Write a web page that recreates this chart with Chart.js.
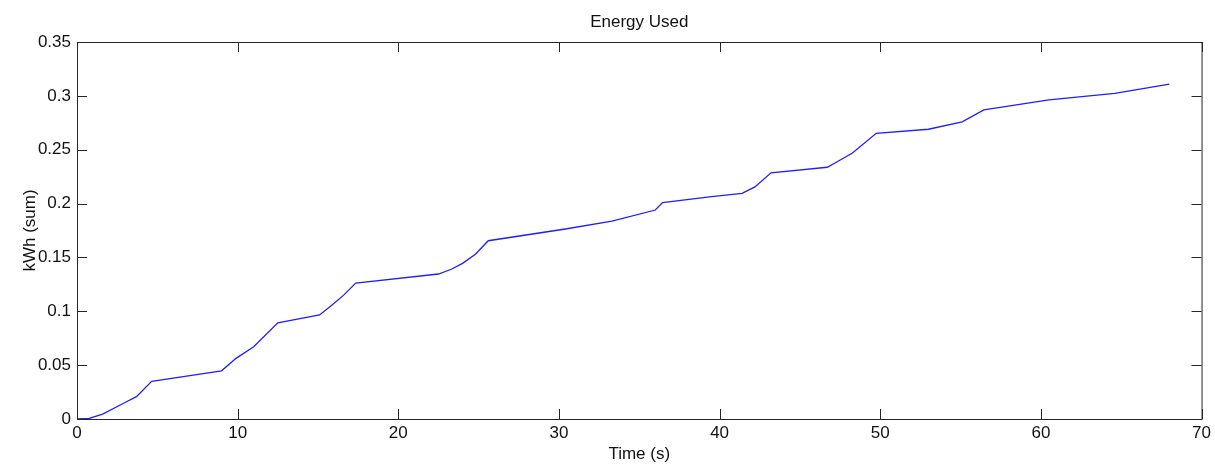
<!DOCTYPE html>
<html>
<head>
<meta charset="utf-8">
<script src="https://cdn.jsdelivr.net/npm/chart.js@4/dist/chart.umd.min.js"></script>
<style>
  body { margin: 0; background: #fff; }
  #wrap { width: 1215px; height: 465px; }
</style>
</head>
<body>
<div id="wrap"><canvas id="energyChart" width="1215" height="465"></canvas></div>
<script>
// data
var times = [0, 0.75, 1.6, 2.9, 3.7, 4.65, 9.0, 9.9, 11.0, 12.5, 15.1, 15.8, 16.6, 17.35,
  22.5, 23.3, 24.0, 24.8, 25.6, 30.4, 33.3, 36.0, 36.45, 39.5, 41.4, 42.2, 43.2,
  46.7, 47.4, 48.25, 49.75, 53.0, 55.1, 56.45, 60.5, 64.6, 68.0];
var kwh = [0, 0.0005, 0.0046, 0.0146, 0.0207, 0.035, 0.0447, 0.0563, 0.0671, 0.0893, 0.0966, 0.105, 0.115, 0.1262,
  0.1346, 0.139, 0.1445, 0.153, 0.1655, 0.1764, 0.1838, 0.194, 0.2009, 0.2064, 0.2095, 0.2155, 0.2285,
  0.2337, 0.2395, 0.2467, 0.2652, 0.269, 0.2758, 0.2869, 0.2962, 0.3024, 0.3108];
var xTicks = [0, 10, 20, 30, 40, 50, 60, 70];
var yTicks = [0, 0.05, 0.1, 0.15, 0.2, 0.25, 0.3, 0.35];
var chartTitle = 'Energy Used';

var fontFam = "'Liberation Sans', Arial, sans-serif";
var axisColor = '#262626';
var textColor = '#111';

//build points for the line
var points = [];
for (var i = 0; i < times.length; i++) {
  points.push({x: times[i], y: kwh[i]});
}

//matlab style box with inward ticks, title centred over the axes
var boxPlugin = {
  id: 'matlabBox',
  afterDraw: function(chart) {
    var ctx = chart.ctx;
    var a = chart.chartArea;
    var xs = chart.scales.x, ys = chart.scales.y;
    var len = 10;
    ctx.save();
    ctx.strokeStyle = axisColor;
    ctx.lineWidth = 1;
    ctx.strokeRect(a.left + 0.5, a.top + 0.5, a.right - a.left, a.bottom - a.top);
    ctx.beginPath();
    xTicks.forEach(function(v) {
      var px = Math.round(xs.getPixelForValue(v)) + 0.5;
      ctx.moveTo(px, a.bottom); ctx.lineTo(px, a.bottom - len);
      ctx.moveTo(px, a.top); ctx.lineTo(px, a.top + len);
    });
    yTicks.forEach(function(v) {
      var py = Math.round(ys.getPixelForValue(v)) + 0.5;
      ctx.moveTo(a.left, py); ctx.lineTo(a.left + len, py);
      ctx.moveTo(a.right, py); ctx.lineTo(a.right - len, py);
    });
    ctx.stroke();

    ctx.fillStyle = textColor;
    ctx.font = '17px ' + fontFam;
    ctx.textAlign = 'center';
    ctx.textBaseline = 'middle';
    ctx.fillText(chartTitle, (a.left + a.right) / 2, 22);
    ctx.restore();
  }
};

var ctx = document.getElementById('energyChart');
var myChart = new Chart(ctx, {
  type: 'line',
  data: {
    datasets: [{
      data: points,
      borderColor: '#1f1fff',
      borderWidth: 1.3,
      pointRadius: 0,
      tension: 0,
      fill: false
    }]
  },
  options: {
    responsive: false,
    animation: false,
    layout: { padding: { left: 0, right: 11, top: 42, bottom: 0 } },
    plugins: {
      legend: { display: false },
      tooltip: { enabled: false },
      title: { display: false }
    },
    scales: {
      x: {
        type: 'linear',
        min: 0,
        max: 70,
        afterBuildTicks: function(scale) {
          scale.ticks = xTicks.map(function(v) { return {value: v}; });
        },
        afterFit: function(scale) { scale.height = 46; },
        grid: { display: false, drawTicks: false },
        border: { display: false },
        ticks: {
          color: textColor,
          padding: 4,
          maxRotation: 0,
          font: { family: fontFam, size: 17 }
        },
        title: {
          display: true,
          text: 'Time (s)',
          color: textColor,
          font: { family: fontFam, size: 17 },
          padding: { top: 0, bottom: 0 }
        }
      },
      y: {
        min: 0,
        max: 0.35,
        afterBuildTicks: function(scale) {
          scale.ticks = yTicks.map(function(v) { return {value: v}; });
        },
        afterFit: function(scale) { scale.width = 77; },
        grid: { display: false, drawTicks: false },
        border: { display: false },
        ticks: {
          color: textColor,
          padding: 6,
          font: { family: fontFam, size: 17 },
          callback: function(v) { return String(parseFloat(v.toFixed(2))); }
        },
        title: {
          display: true,
          text: 'kWh (sum)',
          color: textColor,
          font: { family: fontFam, size: 17 },
          padding: { top: 20, bottom: 0 }
        }
      }
    }
  },
  plugins: [boxPlugin]
});
</script>
</body>
</html>
